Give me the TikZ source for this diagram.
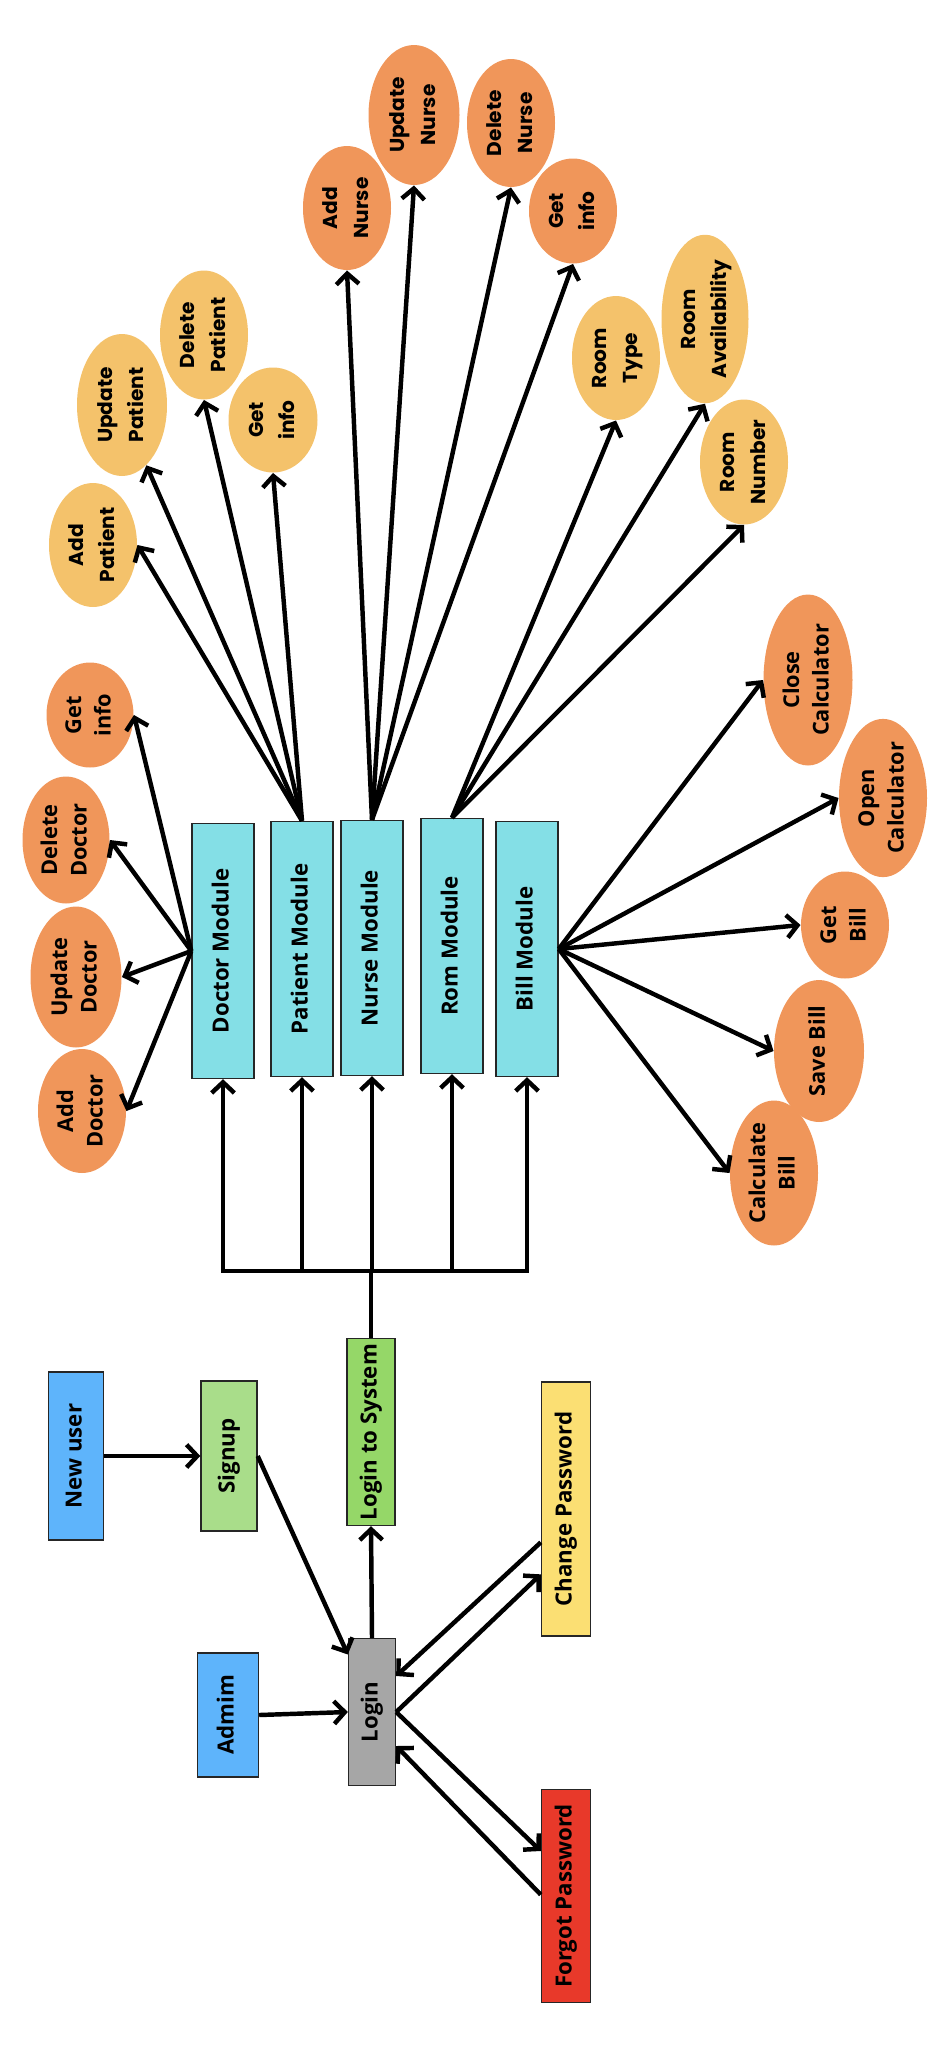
\documentclass[tikz,border=0pt]{standalone}
\usepackage{graphicx}
\usepackage{fontspec}
\setmainfont{Open Sans}
\newfontfamily\widefont{Poppins}
\usepackage{tikz}
\usetikzlibrary{shapes.geometric,arrows.meta}

\definecolor{modcyan}{RGB}{132,223,230}
\definecolor{darkorange}{RGB}{240,150,90}
\definecolor{lightorange}{RGB}{244,194,107}
\definecolor{userblue}{RGB}{94,180,251}
\definecolor{signgreen}{RGB}{169,221,138}
\definecolor{sysgreen}{RGB}{149,215,104}
\definecolor{pwyellow}{RGB}{251,223,115}
\definecolor{pwred}{RGB}{232,57,42}
\definecolor{logingray}{RGB}{166,166,166}

\newcommand{\vtext}[1]{\rotatebox{90}{\begin{tabular}{@{}c@{}}#1\end{tabular}}}

\begin{document}
\begin{tikzpicture}[x=0.015cm, y=-0.015cm,
  sz/.style 2 args={minimum width=#1*0.015cm, minimum height=#2*0.015cm},
  box/.style={draw=black!85, line width=0.6pt, inner sep=0pt, font=\fontsize{9.5}{12}\selectfont\bfseries},
  module/.style={box, fill=modcyan, sz={62}{255}},
  oval/.style={ellipse, inner sep=0pt},
  darkoval/.style={oval, fill=darkorange, font=\fontsize{9.3}{12.5}\selectfont\bfseries},
  lightoval/.style={oval, fill=lightorange, font=\widefont\fontsize{8.6}{13}\selectfont\bfseries},
  nurseoval/.style={oval, fill=darkorange, font=\widefont\fontsize{8.6}{13}\selectfont\bfseries},
  arr/.style={-{Straight Barb[length=1.6mm,width=3.4mm]}, line width=1.9pt},
  link/.style={line width=1.9pt}]
\useasboundingbox (0,0) rectangle (948,2064);

\node[module](dm) at (223,951) {\vtext{Doctor Module}};
\node[module](pm) at (302,949) {\vtext{Patient Module}};
\node[module](nm) at (372,948) {\vtext{Nurse Module}};
\node[module](rm) at (452,946) {\vtext{Rom Module}};
\node[module](bm) at (527,949) {\vtext{Bill Module}};

\node[darkoval, sz={87}{105}](gid) at (90,715) {\vtext{Get\\info}};
\node[darkoval, sz={87}{127}](dd) at (66,840) {\vtext{Delete\\Doctor}};
\node[darkoval, sz={91}{141}](ud) at (76,977) {\vtext{Update\\Doctor}};
\node[darkoval, sz={88}{124}](ad) at (82,1111) {\vtext{Add\\Doctor}};

\node[lightoval, sz={88}{124}](ap) at (93,545) {\vtext{Add\\Patient}};
\node[lightoval, sz={90}{142}](up) at (122,405) {\vtext{Update\\Patient}};
\node[lightoval, sz={88}{129}](dp) at (204,335) {\vtext{Delete\\Patient}};
\node[lightoval, sz={89}{105}](gip) at (273,420) {\vtext{Get\\info}};

\node[nurseoval, sz={88}{124}](an) at (347,208) {\vtext{Add\\Nurse}};
\node[nurseoval, sz={91}{140}](un) at (414,115) {\vtext{Update\\Nurse}};
\node[nurseoval, sz={88}{128}](dn) at (511,123) {\vtext{Delete\\Nurse}};
\node[nurseoval, sz={88}{105}](gin) at (573,211) {\vtext{Get\\info}};

\node[lightoval, sz={88}{124}](rt) at (616,358) {\vtext{Room\\Type}};
\node[lightoval, sz={87}{160}](ra) at (705,319) {\vtext{Room\\Availability}};
\node[lightoval, sz={88}{125}](rn) at (744,462) {\vtext{Room\\Number}};

\node[darkoval, sz={89}{171}](cc) at (808,680) {\vtext{Close\\Calculator}};
\node[darkoval, sz={88}{154}](oc) at (883,798) {\vtext{Open\\Calculator}};
\node[darkoval, sz={88}{107}](gb) at (845,925) {\vtext{Get\\Bill}};
\node[darkoval, sz={90}{142}](sb) at (819,1051) {\vtext{Save Bill}};
\node[darkoval, sz={88}{145}](cb) at (774,1173) {\vtext{Calculate\\Bill}};

\node[box, fill=userblue, sz={55}{168}](nu) at (76,1456) {\vtext{New user}};
\node[box, fill=signgreen, sz={56}{150}](su) at (229,1456) {\vtext{Signup}};
\node[box, fill=sysgreen, sz={48}{187}](ls) at (371,1432) {\vtext{Login to System}};
\node[box, fill=pwyellow, sz={49}{254}](cp) at (566,1509) {\vtext{Change Password}};
\node[box, fill=userblue, sz={61}{124}](am) at (228,1715) {\vtext{Admim}};
\node[box, fill=logingray, sz={47}{147}](lg) at (372,1712) {\vtext{Login}};
\node[box, fill=pwred, sz={49}{213}](fp) at (566,1896) {\vtext{Forgot Password}};

\foreach \t in {gid,dd,ud,ad}
{
	\draw[arr] (dm.west) -- (\t.east);
}
\draw[arr] (pm.north) -- (ap.east);
\draw[arr] (pm.north) -- (up.-68);
\draw[arr] (pm.north) -- (dp.south);
\draw[arr] (pm.north) -- (gip.south);
\foreach \t in {an,un,dn,gin}
{
	\draw[arr] (nm.north) -- (\t.south);
}
\foreach \t in {rt,ra,rn}
{
	\draw[arr] (rm.north) -- (\t.south);
}
\foreach \t in {cc,oc,gb,sb,cb}
{
	\draw[arr] (bm.east) -- (\t.west);
}

\coordinate (bus) at (0,1271);
\draw[link, line cap=rect] (dm.south |- bus) -- (bm.south |- bus);
\draw[link] (ls.north) -- (ls.north |- bus);
\foreach \m in {dm,pm,nm,rm,bm}
{
	\draw[arr] (\m.south |- bus) -- (\m.south);
}

\draw[arr] (nu.east) -- (su.west);
\draw[arr] (su.east) -- ([yshift=-0.25cm]lg.north west);
\draw[arr] (am.east) -- (lg.west);
\draw[arr] (lg.north) -- (ls.south);
\draw[arr] ([yshift=-0.5cm]cp.west) -- ([yshift=0.54cm]lg.east);
\draw[arr] (lg.east) -- ([yshift=-0.98cm]cp.west);
\draw[arr] (lg.east) -- ([yshift=0.675cm]fp.west);
\draw[arr] ([yshift=0.02cm]fp.west) -- ([yshift=-0.51cm]lg.east);
\end{tikzpicture}
\end{document}
